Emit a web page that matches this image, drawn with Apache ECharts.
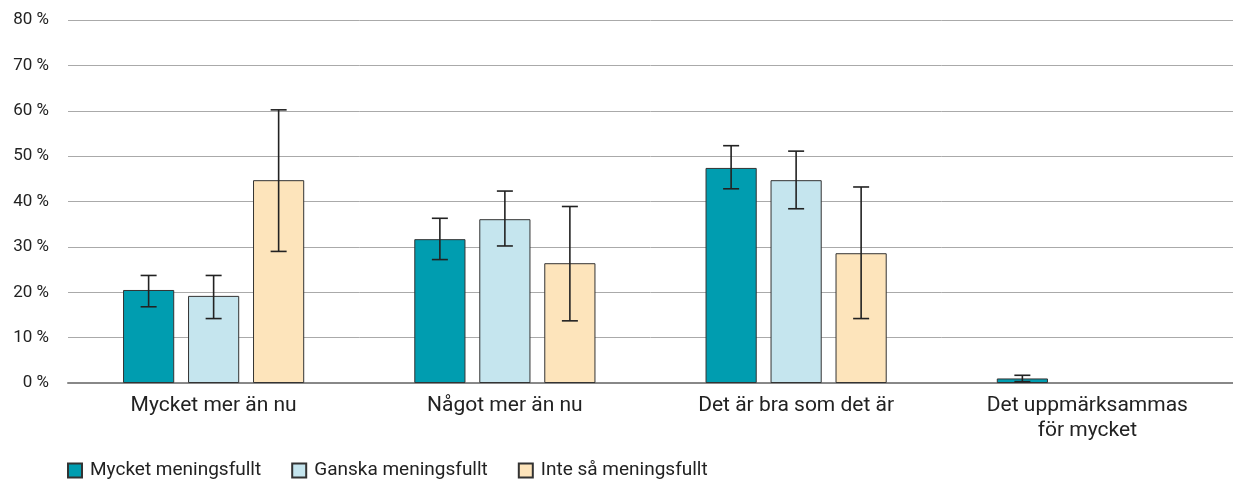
<!DOCTYPE html>
<html><head><meta charset="utf-8">
<script src="https://cdn.jsdelivr.net/npm/echarts@6/dist/echarts.min.js"></script>
<style>html,body{margin:0;padding:0;background:#fff}#c{width:1233px;height:479px}</style>
</head><body><div id="c"></div>
<script>
const categories = ['Mycket mer än nu', 'Något mer än nu', 'Det är bra som det är', 'Det uppmärksammas\nför mycket'];
const seriesNames = ['Mycket meningsfullt', 'Ganska meningsfullt', 'Inte så meningsfullt'];
const mycket = [20.5, 31.7, 47.4, 1.0];
const ganska = [19.2, 36.1, 44.7, null];
const inte = [44.7, 26.4, 28.6, null];
const mycketLow = [16.8, 27.2, 42.8, 0.3];
const mycketHigh = [23.7, 36.3, 52.3, 1.7];
const ganskaLow = [14.2, 30.2, 38.4, null];
const ganskaHigh = [23.7, 42.3, 51.1, null];
const inteLow = [29.0, 13.7, 14.2, null];
const inteHigh = [60.2, 38.9, 43.2, null];
const yTicks = [0, 10, 20, 30, 40, 50, 60, 70, 80];
const colors = ['#009DB0', '#C5E5EE', '#FDE4BB'];

const values = [mycket, ganska, inte];
const lows = [mycketLow, ganskaLow, inteLow];
const highs = [mycketHigh, ganskaHigh, inteHigh];

const chart = echarts.init(document.getElementById('c'));
const series = [];
seriesNames.forEach((name, i) => {
  series.push({
    name, type: 'bar', data: values[i],
    barGap: '27%', barCategoryGap: '37.8%',
    itemStyle: { color: colors[i], borderColor: '#333', borderWidth: 1 },
    emphasis: { disabled: true }
  });
});
seriesNames.forEach((name, i) => {
  const data = [];
  lows[i].forEach((l, k) => { if (l != null) data.push([k, l, highs[i][k]]); });
  series.push({
    type: 'custom', name: 'err' + i, z: 10,
    encode: { x: 0, y: [1, 2] },
    data,
    renderItem: (params, api) => {
      const k = api.value(0);
      const band = api.size([1, 0])[0];
      const off = (i - 1) * band * 0.2232;
      const p1 = api.coord([k, api.value(1)]);
      const p2 = api.coord([k, api.value(2)]);
      const x = p1[0] + off;
      const hw = 8;
      const st = { stroke: '#222', lineWidth: 1.6 };
      return { type: 'group', children: [
        { type: 'line', shape: { x1: x, y1: p1[1], x2: x, y2: p2[1] }, style: st },
        { type: 'line', shape: { x1: x - hw, y1: p1[1], x2: x + hw, y2: p1[1] }, style: st },
        { type: 'line', shape: { x1: x - hw, y1: p2[1], x2: x + hw, y2: p2[1] }, style: st }
      ]};
    }
  });
});

chart.setOption({
  animation: false,
  textStyle: { fontFamily: 'Roboto' },
  grid: { left: 68, right: 0, top: 20, bottom: 96, containLabel: false },
  legend: {
    data: seriesNames, left: 62, top: 456, itemWidth: 14, itemHeight: 14, itemGap: 30,
    icon: 'rect',
    textStyle: { fontSize: 19, color: '#222', fontFamily: 'Roboto', padding: [0, 0, 0, 3] }
  },
  xAxis: {
    type: 'category', data: categories,
    axisLine: { lineStyle: { color: '#888', width: 2 } },
    axisTick: { show: false },
    axisLabel: { fontSize: 21, color: '#222', margin: 10, lineHeight: 25, interval: 0 }
  },
  yAxis: {
    type: 'value', min: yTicks[0], max: yTicks[yTicks.length - 1], interval: 10,
    axisLine: { show: false }, axisTick: { show: false },
    splitLine: { lineStyle: { color: '#aaa', width: 1 } },
    axisLabel: { fontSize: 17, color: '#222', margin: 19, formatter: v => v + ' %' }
  },
  series
});
</script></body></html>
